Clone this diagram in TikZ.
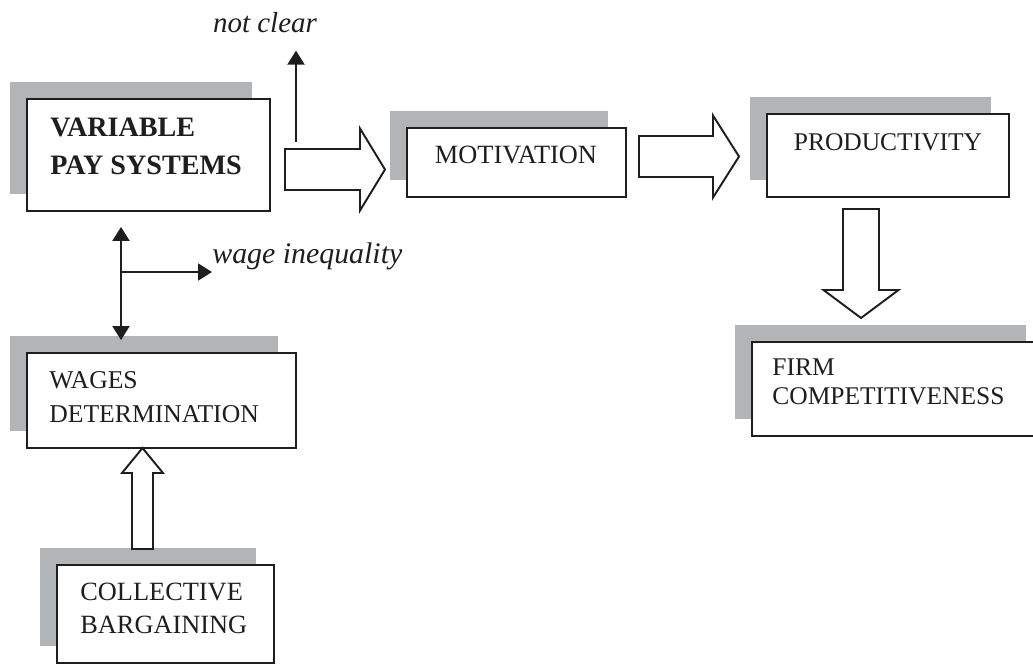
\documentclass[tikz,border=0pt]{standalone}
\usepackage{fontspec}
\setmainfont{Liberation Serif}
\usepackage{tikz}
\usetikzlibrary{positioning,shadows,arrows.meta,calc}
\definecolor{shadowgray}{RGB}{178,180,181}
\definecolor{inkblack}{RGB}{30,30,30}
% hollow block arrow: tail, angle, length, shaft half width, head half width, head length
\newcommand{\fatarrow}[6]{%
  \draw[fat, shift={(#1)}, rotate=#2]
    (0,-#4) -- ({#3-#6},-#4) -- ({#3-#6},-#5) -- (#3,0)
    -- ({#3-#6},#5) -- ({#3-#6},#4) -- (0,#4) -- cycle;}

\begin{document}
\begin{tikzpicture}[x=0.02cm,y=-0.02cm,>={Triangle[width=0.34cm,length=0.28cm]}]

    \tikzset{
      pbox/.style={rectangle, draw=inkblack, line width=1.1pt, fill=white, inner sep=0pt,
        drop shadow={shadow xshift=-0.35cm, shadow yshift=0.34cm, fill=shadowgray, opacity=1}},
      btext/.style={inner sep=0pt, text=inkblack, align=left},
      fat/.style={draw=inkblack, line width=1.1pt, fill=white, line join=miter},
      link/.style={draw=inkblack, line width=1.2pt}
    }

    \useasboundingbox (0,0) rectangle (1033,664);
    \clip (0,0) rectangle (1033,664);

    % BOXES
    \node (vps) at (148.5,155) [pbox, minimum width=4.86cm, minimum height=2.24cm] {};
    \node (mot) at (516.5,162.5) [pbox, minimum width=4.38cm, minimum height=1.38cm] {};
    \node (prod) at (888,155.5) [pbox, minimum width=4.84cm, minimum height=1.66cm] {};
    \node (firm) at (898,389) [pbox, minimum width=5.84cm, minimum height=1.88cm] {};
    \node (wag) at (161.5,400.5) [pbox, minimum width=5.38cm, minimum height=1.9cm] {};
    \node (col) at (165.5,614) [pbox, minimum width=4.34cm, minimum height=1.96cm] {};

    % TEXTS
    \node (vpsT) at (50,118) [btext, anchor=north west, font=\fontsize{16}{21.5}\selectfont\bfseries] {VARIABLE\\PAY SYSTEMS};
    \node (motT) at (516,163) [btext, anchor=base, font=\fontsize{15}{18}\selectfont] {MOTIVATION};
    \node (prodT) at (888,150) [btext, anchor=base, font=\fontsize{14.5}{18}\selectfont] {PRODUCTIVITY};
    \node (firmT) at (772,358) [btext, anchor=north west, font=\fontsize{14.5}{17}\selectfont] {FIRM\\COMPETITIVENESS};
    \node (wagT) at (49,371) [btext, anchor=north west, font=\fontsize{14.6}{19.3}\selectfont] {WAGES\\DETERMINATION};
    \node (colT) at (80,583) [btext, anchor=north west, font=\fontsize{15}{18.7}\selectfont] {COLLECTIVE\\BARGAINING};

    % ITALIC LABELS
    \node (ncT) at (265,32) [btext, anchor=base, font=\fontsize{16.5}{20}\selectfont\itshape] {not clear};
    \node (wiT) at (212,263) [btext, anchor=base west, font=\fontsize{17}{20}\selectfont\itshape] {wage inequality};

    % HOLLOW ARROWS
    \coordinate (a1) at (285,169.5);
    \fatarrow{a1}{0}{100}{20.5}{41}{25}
    \coordinate (a2) at (639,156.5);
    \fatarrow{a2}{0}{100}{20.5}{41}{26}
    \coordinate (a3) at (861,209);
    \fatarrow{a3}{-90}{109}{18}{37.5}{28}
    \coordinate (a4) at (142.5,549);
    \fatarrow{a4}{90}{101}{10.5}{20.5}{25}

    % THIN ARROWS
    \coordinate (nc) at (296,142);
    \draw[link, ->, shorten >=0.36cm] (nc) -- (nc |- ncT.south);

    \coordinate (br) at (121,272);
    \draw[link, <->, shorten <=0.3cm, shorten >=0.24cm] (br |- vps.south) -- (br |- wag.north);
    \draw[link, ->] (br) -- (br -| wiT.west);

\end{tikzpicture}
\end{document}
